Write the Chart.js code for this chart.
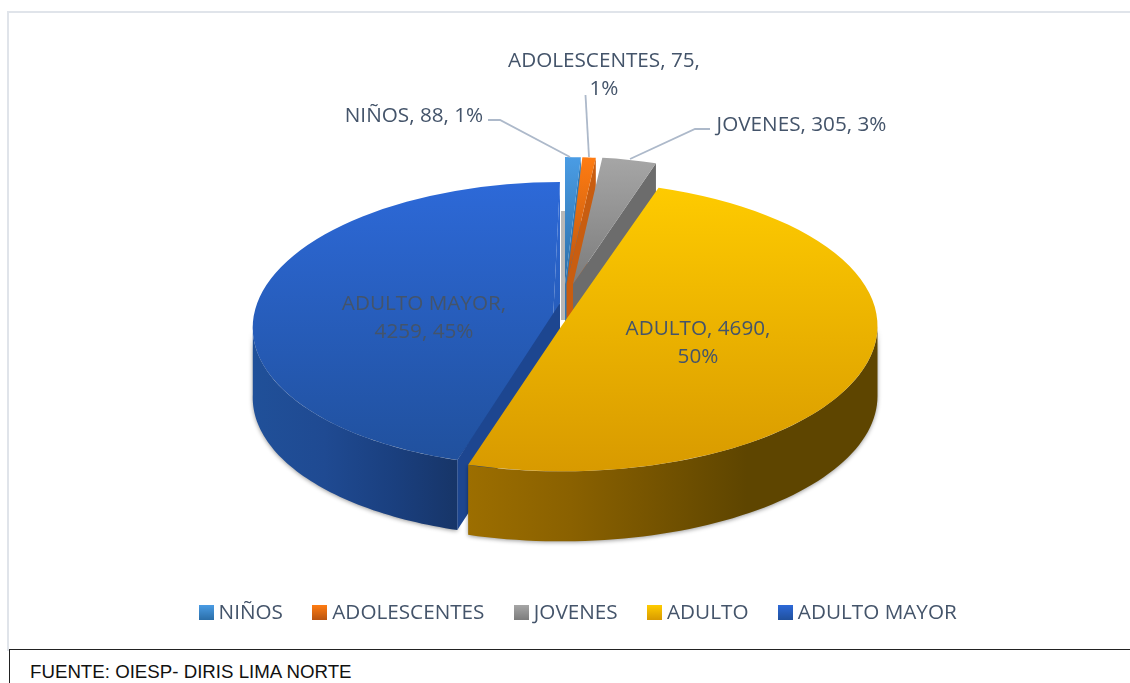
<!DOCTYPE html>
<html lang="es">
<head>
<meta charset="utf-8">
<title>Población por etapa de vida</title>
<script src="https://cdn.jsdelivr.net/npm/chart.js@4"></script>
<style>
html,body{margin:0;padding:0;background:#fff;width:1130px;height:683px;overflow:hidden}
#frame{position:absolute;left:7px;top:11px;width:1123px;height:640px;box-sizing:border-box;border-left:2px solid #e0e4ea;border-top:2px solid #e0e4ea}
canvas{position:absolute;left:0;top:0}
#foot{position:absolute;left:9px;top:649px;width:1121px;height:34px;box-sizing:border-box;border-left:1.5px solid #222;border-top:1.5px solid #222;background:#fff;font:18.7px "Liberation Sans",Arial,sans-serif;color:#111;padding:12px 0 0 20px;line-height:20px;white-space:nowrap}
</style>
</head>
<body>
<div id="frame"></div>
<canvas id="c" width="1130" height="683"></canvas>
<div id="foot">FUENTE: OIESP- DIRIS LIMA NORTE</div>
<script>
const categories = ['NIÑOS','ADOLESCENTES','JOVENES','ADULTO','ADULTO MAYOR'];
const values = [88,75,305,4690,4259];
const percents = [1,1,3,50,45];

// appearance of each slice (top face gradient, side wall colour)
const topColors = [['#4a9ce4','#2b6ea8'],['#ff7c12','#b95410'],['#a6a6a6','#7c7c7c'],['#ffcc00','#d89a00'],['#2d69d8','#20509c']];
const wallColors = ['#2f78b5','#c85d10','#6c6c6c',null,null];
const yellowWall = [[0,'#9c6e00'],[0.25,'#8a6100'],[0.45,'#765400'],[0.68,'#5e4500'],[1,'#5e4500']];
const blueWall = [[0,'#205099'],[0.35,'#1f4a92'],[0.7,'#1a3f7e'],[1,'#173568']];

// exploded-3D placement of each slice on the page
const sliceCx = [565,566.5,573,561.5,552.8];
const sliceCy = [284,284,284,326,324.2];
const sliceR = [270,270,270,316,300];
const sliceK = [0.47,0.47,0.47,0.46,0.474];
const sliceShear = [0,0,0,0,-0.0239];
const depth = 70;
const paintOrder = [0,1,2,4,3];

const FONT = '20.7px "Open Sans"';
const INK = '#44546a';
const LEADER = '#adb9ca';
const labelBlocks = [
  {i:0, lines:[c=>`${c.cat}, ${c.val}, ${c.pct}%`], x:[414], y:[122], line:[[488,120],[500,120],[570,157]]},
  {i:1, lines:[c=>`${c.cat}, ${c.val},`, c=>`${c.pct}%`], x:[604,604], y:[67,95], line:[[585.5,95],[589,157]]},
  {i:2, lines:[c=>`${c.cat}, ${c.val}, ${c.pct}%`], x:[801.5], y:[131], line:[[710,129],[695,129],[630,159]]},
  {i:3, lines:[c=>`${c.cat}, ${c.val},`, c=>`${c.pct}%`], x:[698,698], y:[335,363]},
  {i:4, lines:[c=>`${c.cat},`, c=>`${c.val}, ${c.pct}%`], x:[424,424], y:[310,338]}
];

function pt(i,a){
  const R=sliceR[i];
  return [sliceCx[i]+R*Math.cos(a)+sliceShear[i]*R*Math.sin(a), sliceCy[i]+sliceK[i]*R*Math.sin(a)];
}
function swatch(i){
  const s=document.createElement('canvas'); s.width=15; s.height=15;
  const g=s.getContext('2d'); const l=g.createLinearGradient(0,0,0,15);
  l.addColorStop(0,topColors[i][0]); l.addColorStop(1,topColors[i][1]);
  g.fillStyle=l; g.fillRect(0,0,15,15); return s;
}
function stops(ctx,x0,x1,list){
  const g=ctx.createLinearGradient(x0,0,x1,0);
  list.forEach(s=>g.addColorStop(s[0],s[1])); return g;
}
function outerWall(ctx,i,arc,list){
  const a0=Math.max(arc.startAngle,0), a1=Math.min(arc.endAngle,Math.PI), n=60, top=[];
  for(let j=0;j<=n;j++) top.push(pt(i,a0+(a1-a0)*j/n));
  ctx.save();
  ctx.shadowColor='rgba(0,0,0,.4)'; ctx.shadowBlur=4; ctx.shadowOffsetY=1;
  ctx.beginPath();
  top.forEach((p,j)=>j?ctx.lineTo(p[0],p[1]):ctx.moveTo(p[0],p[1]));
  top.slice().reverse().forEach(p=>ctx.lineTo(p[0],p[1]+depth));
  ctx.closePath();
  const xs=top.map(p=>p[0]);
  ctx.fillStyle=stops(ctx,Math.min(...xs),Math.max(...xs),list);
  ctx.fill(); ctx.restore();
}
function smallWall(ctx,i,arc){
  const p=pt(i,arc.endAngle), o=[sliceCx[i],sliceCy[i]];
  ctx.beginPath(); ctx.moveTo(o[0],o[1]); ctx.lineTo(p[0],p[1]);
  ctx.lineTo(p[0],p[1]+depth); ctx.lineTo(o[0],o[1]+depth); ctx.closePath();
  ctx.fillStyle=wallColors[i]; ctx.fill();
}
// radial faces of the large back slice, seen in perspective
function blueFace(ctx,arc){
  const p=pt(4,arc.startAngle), e=pt(4,arc.endAngle), o=[560,303], c=[sliceCx[4],sliceCy[4]];
  const g=ctx.createLinearGradient(0,e[1],0,p[1]);
  g.addColorStop(0,topColors[4][0]); g.addColorStop(1,topColors[4][1]);
  ctx.beginPath(); ctx.moveTo(e[0],e[1]); ctx.lineTo(o[0],o[1]); ctx.lineTo(c[0],c[1]); ctx.closePath();
  ctx.fillStyle=g; ctx.fill();
  ctx.beginPath(); ctx.moveTo(o[0],o[1]); ctx.lineTo(p[0],p[1]);
  ctx.lineTo(p[0],p[1]+depth); ctx.lineTo(o[0],o[1]+depth); ctx.closePath();
  ctx.fillStyle='#1d4690'; ctx.fill();
  ctx.fillStyle='#b8b8b8'; ctx.fillRect(561,211,4,109);
}

const pie3d = {
  id:'pie3d',
  afterDatasetsUpdate(chart){
    const arcs=chart.getDatasetMeta(0).data;
    const bases=arcs.map(a=>Object.getPrototypeOf(a).draw);
    arcs.forEach((slot,n)=>{
      const i=paintOrder[n], a=arcs[i];
      slot.draw=function(ctx){
        if(i===3) outerWall(ctx,3,a,yellowWall);
        ctx.save();
        ctx.translate(sliceCx[i],sliceCy[i]);
        ctx.transform(1,0,sliceShear[i],sliceK[i],0,0);
        ctx.translate(-a.x,-a.y);
        a.outerRadius=sliceR[i];
        bases[i].call(a,ctx);
        ctx.restore();
        if(i===4) blueFace(ctx,a);
      };
    });
  },
  beforeDatasetDraw(chart){
    const ctx=chart.ctx, arcs=chart.getDatasetMeta(0).data;
    [0,1,2].forEach(i=>smallWall(ctx,i,arcs[i]));
    outerWall(ctx,4,arcs[4],blueWall);
  },
  afterDatasetsDraw(chart){
    const ctx=chart.ctx;
    ctx.save();
    ctx.strokeStyle=LEADER; ctx.lineWidth=1.8;
    labelBlocks.forEach(b=>{
      if(!b.line) return;
      ctx.beginPath();
      b.line.forEach((p,j)=>j?ctx.lineTo(p[0],p[1]):ctx.moveTo(p[0],p[1]));
      ctx.stroke();
    });
    ctx.font=FONT; ctx.fillStyle=INK; ctx.textAlign='center'; ctx.textBaseline='alphabetic';
    labelBlocks.forEach(b=>{
      const c={cat:categories[b.i],val:values[b.i],pct:percents[b.i]};
      b.lines.forEach((f,j)=>ctx.fillText(f(c),b.x[j],b.y[j]));
    });
    ctx.restore();
  }
};

new Chart(document.getElementById('c'),{
  type:'pie',
  data:{labels:categories,datasets:[{
    data:values,
    borderWidth:0,
    clip:false,
    radius:270,
    backgroundColor(ctx){
      const i=ctx.dataIndex, ch=ctx.chart; if(!ch.chartArea) return topColors[i][0];
      const y=(ch.chartArea.top+ch.chartArea.bottom)/2, R=sliceR[i];
      const g=ch.ctx.createLinearGradient(0,y-R,0,i<3?y:y+R);
      g.addColorStop(0,topColors[i][0]); g.addColorStop(1,topColors[i][1]);
      return g;
    }
  }]},
  options:{
    responsive:false,animation:false,events:[],
    layout:{padding:{left:31,bottom:50}},
    plugins:{
      tooltip:{enabled:false},
      legend:{
        position:'bottom',
        labels:{
          usePointStyle:true,boxWidth:4,boxHeight:15,padding:35,
          color:INK,font:{family:'"Open Sans"',size:20.7},
          generateLabels(){
            return categories.map((t,i)=>({text:t,pointStyle:swatch(i),fillStyle:topColors[i][0],strokeStyle:'transparent',lineWidth:0,fontColor:INK,hidden:false,index:i}));
          }
        }
      }
    }
  },
  plugins:[pie3d]
});
</script>
</body>
</html>
